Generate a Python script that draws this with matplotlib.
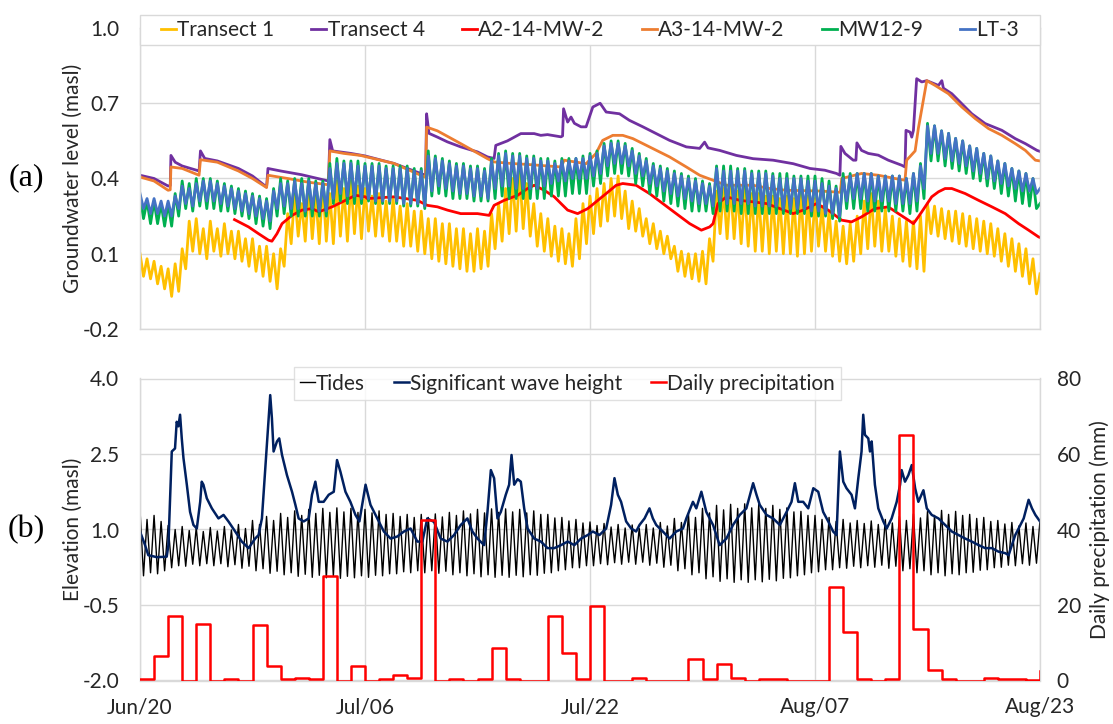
import numpy as np
import matplotlib
matplotlib.use("Agg")
import matplotlib.pyplot as plt
from matplotlib.patches import Rectangle

plt.rcParams['font.family'] = ['Lato', 'DejaVu Sans']
plt.rcParams['axes.unicode_minus'] = False

# ---------------- data ----------------
# x axis: days since Jun/20
date_ticks = [0, 16, 32, 48, 64]
date_labels = ["Jun/20", "Jul/06", "Jul/22", "Aug/07", "Aug/23"]

# Oscillating wells: successive highs and lows (cm), two tidal cycles per day
t1_hi = [10, 8, 7, 5, 4, 6, 12, 23, 24, 20, 23, 20, 22, 19, 19, 16,
         16, 13, 13, 10, 12, 26, 34, 30, 37, 33, 38, 34, 39, 36, 39, 37,
         36, 33, 34, 31, 32, 29, 30, 27, 27, 24, 24, 22, 22, 20, 20, 18,
         20, 19, 26, 30, 36, 40, 42, 38, 30, 26, 24, 21, 20, 18, 24, 30,
         33, 36, 38, 40, 41, 35, 31, 28, 24, 22, 19, 17, 13, 11, 10, 10,
         11, 16, 35, 36, 37, 35, 36, 34, 34, 33, 33, 32, 33, 32, 34, 33,
         32, 29, 27, 23, 21, 22, 25, 31, 34, 31, 28, 25, 24, 23, 23, 25,
         30, 29, 28, 27, 27, 26, 25, 24, 23, 22, 20, 18, 16, 14, 12, 8]
t1_lo = [1, 0, -2, -4, -7, -5, 4, 11, 10, 8, 11, 9, 10, 8, 7, 5,
         3, 1, -1, -4, 5, 14, 17, 15, 16, 14, 15, 14, 17, 15, 18, 16,
         19, 17, 17, 15, 15, 13, 13, 11, 10, 8, 7, 6, 5, 4, 3, 3,
         4, 5, 12, 15, 18, 19, 20, 17, 13, 11, 9, 7, 6, 5, 8, 14,
         18, 21, 23, 25, 24, 20, 19, 17, 14, 12, 10, 8, 3, 1, 0, -1,
         -2, 7, 18, 16, 16, 14, 13, 11, 11, 10, 11, 10, 10, 9, 10, 11,
         13, 11, 9, 7, 6, 7, 10, 12, 13, 11, 11, 9, 7, 5, 4, 3,
         18, 17, 16, 15, 14, 13, 12, 11, 10, 9, 7, 5, 3, 1, -2, -6]
t1_end = 2

mw_hi = [33, 31, 31, 30, 30, 34, 39, 38, 40, 40, 40, 39, 38, 37, 36, 35,
         34, 33, 32, 36, 40, 39, 40, 40, 40, 39, 39, 46, 48, 47, 47, 47,
         46, 46, 46, 45, 45, 45, 45, 44, 44, 51, 49, 48, 47, 46, 46, 45,
         45, 44, 48, 50, 51, 50, 50, 49, 49, 48, 48, 47, 48, 48, 48, 49,
         50, 51, 54, 55, 55, 54, 52, 50, 48, 46, 45, 44, 43, 42, 41, 40,
         39, 38, 45, 45, 45, 44, 44, 43, 43, 43, 42, 42, 42, 41, 41, 41,
         41, 40, 39, 37, 42, 42, 42, 42, 42, 41, 41, 41, 41, 40, 42, 46,
         62, 61, 59, 58, 56, 55, 53, 52, 50, 49, 47, 46, 44, 43, 42, 40]
mw_lo = [24, 22, 22, 21, 21, 25, 28, 27, 29, 28, 28, 27, 27, 26, 25, 24,
         22, 21, 20, 25, 26, 25, 25, 25, 25, 25, 25, 30, 31, 30, 30, 30,
         31, 30, 30, 30, 30, 29, 29, 29, 28, 33, 34, 33, 32, 32, 32, 31,
         31, 31, 32, 33, 32, 32, 32, 32, 32, 32, 33, 33, 33, 34, 34, 34,
         37, 38, 41, 42, 42, 41, 38, 37, 34, 33, 31, 30, 29, 28, 27, 27,
         27, 26, 27, 27, 27, 26, 26, 26, 26, 26, 26, 26, 26, 26, 26, 25,
         25, 25, 24, 23, 28, 28, 28, 27, 27, 27, 27, 27, 27, 26, 27, 32,
         47, 47, 45, 44, 43, 42, 40, 39, 37, 36, 34, 33, 31, 30, 29, 28]
mw_end = 30

lt_hi = [34, 32, 32, 31, 31, 33, 37, 36, 38, 39, 39, 38, 37, 36, 35, 34,
         33, 32, 31, 35, 38, 38, 39, 38, 39, 38, 38, 44, 46, 46, 46, 45,
         45, 45, 45, 44, 44, 44, 44, 43, 43, 49, 48, 47, 46, 45, 45, 44,
         44, 43, 47, 49, 50, 49, 49, 48, 48, 47, 47, 46, 47, 47, 48, 48,
         49, 50, 53, 54, 54, 53, 51, 49, 47, 45, 44, 43, 42, 41, 40, 39,
         38, 37, 44, 43, 43, 43, 43, 42, 42, 42, 41, 40, 40, 40, 40, 39,
         39, 38, 37, 36, 40, 41, 42, 42, 42, 41, 41, 41, 41, 40, 42, 45,
         61, 61, 59, 58, 56, 55, 53, 52, 50, 49, 47, 46, 44, 43, 42, 40]
lt_lo = [28, 26, 26, 25, 25, 28, 30, 29, 31, 31, 31, 30, 29, 28, 27, 26,
         25, 24, 23, 28, 29, 28, 28, 27, 28, 27, 27, 32, 34, 33, 33, 32,
         32, 31, 31, 31, 31, 30, 30, 30, 29, 35, 37, 36, 35, 34, 34, 33,
         33, 32, 36, 37, 37, 36, 36, 36, 36, 37, 38, 39, 39, 40, 40, 40,
         41, 42, 45, 46, 46, 45, 42, 41, 38, 37, 35, 34, 33, 32, 31, 30,
         30, 29, 31, 30, 30, 30, 30, 29, 29, 29, 29, 28, 28, 28, 28, 27,
         27, 26, 26, 25, 31, 32, 32, 31, 31, 31, 31, 30, 30, 30, 31, 36,
         50, 50, 48, 47, 46, 45, 43, 42, 40, 39, 38, 37, 36, 35, 35, 34]
lt_end = 36

# Smoother wells: (day, level in masl)
t4_day = [0, 1.0, 2.0, 2.15, 2.2, 2.5, 3.0, 4.2, 4.3, 4.6, 5.5, 7.0, 8.0, 9.0, 9.1,
          10.0, 11.5, 13.4, 13.5, 13.7, 15.0, 16.0, 18.06, 19.96, 20.31, 20.38, 20.55,
          21.15, 21.86, 22.81, 24.0, 24.71, 25.18, 25.3, 26.13, 27.08, 28.03, 28.5,
          28.98, 29.94, 30.05, 30.12, 30.41, 30.65, 30.89, 31.36, 31.72, 32.2, 32.72,
          33.15, 34.1, 34.8, 35.76, 36.71, 37.66, 38.85, 39.8, 40.15, 40.39, 41.22,
          42.41, 43.6, 45.02, 46.45, 47.64, 48.7, 49.53, 49.77, 49.84, 50.13, 50.72,
          50.91, 50.98, 51.31, 51.79, 52.5, 53.21, 54.16, 54.4, 54.47, 54.76, 54.88,
          55.0, 55.23, 55.59, 55.95, 56.78, 57.02, 57.13, 57.73, 58.44, 59.15, 60.1,
          61.29, 62.24, 62.96, 63.79, 64.0]
t4_lvl = [0.413, 0.40, 0.37, 0.372, 0.492, 0.465, 0.45, 0.43, 0.51, 0.48, 0.47, 0.44, 0.41, 0.366, 0.44,
          0.43, 0.415, 0.39, 0.555, 0.51, 0.50, 0.49, 0.46, 0.42, 0.413, 0.658, 0.58,
          0.565, 0.546, 0.526, 0.506, 0.486, 0.48, 0.532, 0.55, 0.579, 0.579, 0.572,
          0.575, 0.566, 0.57, 0.678, 0.625, 0.645, 0.62, 0.606, 0.606, 0.685, 0.70,
          0.665, 0.658, 0.632, 0.606, 0.579, 0.552, 0.526, 0.52, 0.545, 0.522, 0.512,
          0.492, 0.479, 0.473, 0.459, 0.44, 0.433, 0.42, 0.413, 0.528, 0.50, 0.473,
          0.473, 0.542, 0.512, 0.50, 0.493, 0.473, 0.453, 0.446, 0.592, 0.585, 0.565,
          0.592, 0.798, 0.785, 0.79, 0.771, 0.79, 0.76, 0.738, 0.698, 0.658, 0.619,
          0.592, 0.559, 0.539, 0.512, 0.508]

a3_day = [0, 1.0, 2.0, 2.15, 2.2, 3.0, 4.2, 4.3, 5.5, 7.0, 8.0, 9.0, 9.1, 10.5, 12.0,
          13.4, 13.5, 14.5, 15.68, 18.06, 19.96, 20.31, 20.38, 21.15, 22.81, 24.71,
          25.18, 26.37, 27.56, 28.98, 29.94, 30.17, 31.72, 32.43, 32.9, 33.62, 34.33,
          35.05, 36.23, 37.66, 38.85, 39.8, 40.75, 41.7, 43.6, 44.79, 45.98, 48.35,
          49.8, 49.9, 51.31, 52.5, 53.69, 54.4, 54.52, 55.12, 55.35, 55.95, 56.54,
          57.49, 58.44, 59.39, 60.34, 61.29, 62.24, 62.96, 63.67, 64.0]
a3_lvl = [0.406, 0.39, 0.353, 0.355, 0.446, 0.44, 0.413, 0.475, 0.465, 0.43, 0.40, 0.364, 0.413, 0.40, 0.385,
          0.375, 0.51, 0.50, 0.492, 0.46, 0.413, 0.405, 0.605, 0.59, 0.539, 0.479,
          0.466, 0.46, 0.456, 0.45, 0.446, 0.473, 0.459, 0.50, 0.552, 0.572, 0.572,
          0.559, 0.526, 0.486, 0.446, 0.413, 0.393, 0.373, 0.373, 0.36, 0.353, 0.35,
          0.345, 0.40, 0.42, 0.413, 0.40, 0.393, 0.473, 0.51, 0.60, 0.79, 0.771,
          0.738, 0.685, 0.639, 0.599, 0.572, 0.539, 0.512, 0.473, 0.47]

a2_day = [6.72, 7.72, 8.43, 9.14, 9.38, 9.74, 10.1, 10.81, 11.52, 12.23, 12.71, 13.66,
          14.61, 15.32, 16.03, 16.16, 18.06, 19.72, 20.43, 21.15, 21.86, 22.81, 24.0,
          24.83, 25.18, 25.9, 26.85, 27.56, 28.03, 28.75, 29.46, 29.94, 30.41, 31.12,
          31.84, 32.43, 33.15, 33.86, 34.33, 35.28, 36.23, 37.18, 38.13, 39.09, 39.92,
          40.51, 40.75, 41.1, 41.7, 42.65, 43.6, 44.55, 45.5, 46.45, 47.16, 48.11,
          48.94, 49.89, 50.6, 51.31, 52.26, 53.21, 53.93, 54.64, 55.0, 55.35, 55.83,
          56.3, 56.78, 57.25, 57.73, 58.68, 59.63, 60.58, 61.53, 62.48, 63.19, 63.9, 64.0]
a2_lvl = [0.236, 0.207, 0.18, 0.154, 0.15, 0.18, 0.22, 0.253, 0.274, 0.28, 0.267, 0.287,
          0.313, 0.333, 0.327, 0.32, 0.327, 0.313, 0.293, 0.287, 0.274, 0.26, 0.26,
          0.253, 0.293, 0.313, 0.333, 0.36, 0.373, 0.353, 0.327, 0.30, 0.274, 0.26,
          0.28, 0.307, 0.34, 0.373, 0.38, 0.373, 0.34, 0.30, 0.26, 0.22, 0.194,
          0.207, 0.22, 0.30, 0.327, 0.313, 0.307, 0.30, 0.28, 0.26, 0.274, 0.30,
          0.274, 0.234, 0.227, 0.247, 0.28, 0.287, 0.26, 0.234, 0.22, 0.247, 0.287,
          0.327, 0.347, 0.36, 0.36, 0.34, 0.313, 0.287, 0.26, 0.22, 0.194, 0.167, 0.165]

# Tides: successive high / low waters (cm)
tide_hi = [139, 120, 128, 116, 108, 100, 106, 98, 104, 96, 104, 97, 106, 99, 110, 102,
           118, 110, 126, 118, 132, 124, 137, 128, 140, 132, 142, 134, 143, 135, 142, 134,
           140, 133, 137, 130, 132, 126, 130, 124, 130, 124, 131, 125, 134, 128, 137, 131,
           140, 133, 141, 134, 141, 135, 140, 133, 137, 130, 130, 123, 124, 117, 120, 113,
           115, 108, 112, 105, 110, 103, 109, 102, 110, 103, 114, 107, 122, 114, 132, 124,
           142, 133, 148, 139, 150, 142, 151, 143, 150, 142, 148, 140, 143, 135, 136, 128,
           128, 120, 124, 116, 120, 113, 118, 112, 117, 110, 120, 113, 126, 118, 131, 123,
           136, 128, 138, 130, 136, 128, 130, 122, 124, 116, 118, 111, 114, 107, 113, 106]
tide_lo = [8, 14, 12, 18, 24, 28, 27, 31, 28, 32, 28, 32, 26, 30, 23, 27,
           18, 22, 13, 17, 10, 14, 7, 11, 5, 9, 4, 8, 3, 7, 4, 8,
           5, 9, 8, 12, 12, 16, 14, 18, 14, 18, 13, 17, 10, 14, 8, 12,
           6, 10, 5, 9, 5, 9, 6, 10, 9, 13, 14, 18, 20, 24, 24, 28,
           28, 32, 30, 34, 31, 35, 31, 35, 29, 33, 25, 29, 18, 22, 10, 14,
           2, 6, -3, 2, -5, 0, -5, 0, -4, 1, -2, 3, 4, 8, 10, 14,
           16, 20, 20, 24, 23, 27, 24, 28, 25, 29, 23, 27, 18, 22, 14, 18,
           10, 14, 8, 12, 10, 14, 15, 19, 20, 24, 25, 29, 28, 32, 29, 33]
tide_end = 118

# Significant wave height (m)
wave_day = [0.0, 0.36, 0.59, 1.2, 1.9, 2.02, 2.26, 2.49, 2.61, 2.73, 2.85, 2.97, 3.09, 3.33,
            3.56, 3.8, 4.04, 4.28, 4.39, 4.51, 4.75, 5.11, 5.58, 5.94, 6.29, 6.77, 7.24,
            7.72, 8.19, 8.43, 8.67, 8.91, 9.14, 9.26, 9.38, 9.5, 9.74, 9.9, 10.1, 10.45,
            10.81, 11.05, 11.28, 11.64, 12.0, 12.23, 12.47, 12.71, 13.06, 13.42, 13.78,
            14.01, 14.25, 14.61, 14.96, 15.32, 15.6, 16.04, 16.39, 16.87, 17.34, 17.82,
            18.29, 18.77, 19.24, 19.72, 20.08, 20.43, 20.91, 21.38, 21.86, 22.33, 22.81,
            23.28, 23.64, 24.0, 24.47, 24.71, 24.95, 25.18, 25.42, 25.66, 26.01, 26.25,
            26.42, 26.61, 26.85, 27.08, 27.32, 27.56, 28.03, 28.51, 28.98, 29.46, 29.94,
            30.41, 30.89, 31.36, 31.84, 32.2, 32.67, 33.15, 33.5, 33.74, 33.98, 34.21,
            34.57, 34.93, 35.28, 35.52, 35.88, 36.23, 36.47, 36.71, 37.18, 37.66, 38.13,
            38.61, 38.85, 39.32, 39.56, 39.92, 40.27, 40.75, 41.22, 41.7, 42.17, 42.65,
            43.12, 43.6, 43.84, 44.07, 44.55, 45.02, 45.5, 45.98, 46.33, 46.57, 46.81,
            47.16, 47.52, 47.88, 48.23, 48.58, 48.94, 49.29, 49.53, 49.77, 50.01, 50.24,
            50.6, 50.84, 51.08, 51.31, 51.43, 51.55, 51.79, 51.91, 52.03, 52.26, 52.5,
            52.86, 53.1, 53.45, 53.81, 54.05, 54.16, 54.4, 54.64, 54.88, 55.12, 55.35,
            55.71, 55.95, 56.3, 56.78, 57.25, 57.73, 58.2, 58.68, 59.15, 59.63, 60.1,
            60.58, 61.05, 61.53, 61.77, 62.0, 62.24, 62.48, 62.84, 63.19, 63.43, 63.67, 64.0]
wave_h = [0.96, 0.69, 0.49, 0.45, 0.46, 0.69, 2.55, 2.61, 3.14, 3.05, 3.28, 2.81, 2.42, 1.89,
          1.35, 1.09, 1.02, 1.55, 1.95, 1.89, 1.62, 1.42, 1.22, 1.29, 1.16, 0.96, 0.76,
          0.63, 0.82, 0.89, 1.22, 2.22, 3.21, 3.67, 3.21, 2.55, 2.75, 2.81, 2.48, 2.08,
          1.75, 1.49, 1.22, 1.16, 1.22, 1.69, 1.95, 1.55, 1.55, 1.69, 1.75,
          2.38, 2.15, 1.75, 1.55, 1.29, 1.16, 1.89, 1.49, 1.22, 0.96, 0.82,
          0.86, 0.96, 1.02, 0.76, 0.76, 1.22, 1.15, 0.82, 0.76, 0.89, 1.09,
          1.22, 0.96, 0.82, 0.69, 1.35, 2.18, 2.02, 1.22, 1.35, 1.69, 1.89,
          2.48, 1.89, 2.0, 1.95, 1.42, 1.02, 0.82, 0.76, 0.63, 0.63, 0.69,
          0.76, 0.69, 0.82, 0.89, 0.96, 0.89, 1.02, 1.49, 2.02, 1.69, 1.55,
          1.16, 1.02, 0.96, 1.09, 1.22, 1.42, 1.22, 1.09, 0.96, 0.82, 0.96,
          1.02, 1.22, 1.55, 1.42, 1.75, 1.35, 1.09, 0.69, 0.82, 1.09, 1.29,
          1.42, 1.92, 1.69, 1.49, 1.29, 1.22, 1.09, 1.35, 1.55, 1.92, 1.55,
          1.55, 1.42, 1.82, 1.75, 1.35, 1.16, 0.96, 0.89, 2.55, 1.95, 1.82,
          1.69, 1.42, 2.02, 2.55, 3.28, 2.88, 2.81, 2.55, 2.75, 1.89, 1.42,
          1.16, 1.02, 1.22, 1.55, 1.89, 2.18, 1.95, 2.08, 2.28, 1.82, 1.55,
          1.78, 1.42, 1.29, 1.22, 1.09, 0.96, 0.89, 0.82, 0.76, 0.69, 0.63,
          0.63, 0.56, 0.53, 0.49, 0.69, 0.89, 1.02, 1.22, 1.59, 1.42, 1.29, 1.16]

# Daily precipitation (mm), one value per day, plus the reading at Aug/23
precip = [0.5, 6.5, 17.2, 0, 15.0, 0, 0.3, 0, 14.6, 3.8, 0.4, 0.7, 0.5, 27.8, 0, 3.8,
          0, 0.3, 1.4, 0.7, 42.5, 0, 0.3, 0, 0.3, 8.5, 0.3, 0, 0, 17.1, 7.4, 0.3,
          19.8, 0, 0, 0.6, 0, 0, 0, 5.6, 0.3, 4.5, 0.6, 0, 0.3, 0.5, 0, 0,
          0, 24.7, 12.8, 0.4, 0, 0.4, 65.0, 13.6, 2.8, 0.3, 0, 0, 0.6, 0.4, 0.3, 0.1,
          2.6]


def cycle_series(hi, lo, end):
    """Alternate highs and lows into one series, in metres."""
    vals = np.empty(2 * len(hi) + 1)
    vals[0:-1:2] = hi
    vals[1:-1:2] = lo
    vals[-1] = end
    return np.arange(vals.size) * 0.25, vals / 100.0


# ---------------- figure ----------------
W, H = 1113, 724
fig = plt.figure(figsize=(W / 100, H / 100), dpi=100)
fig.patch.set_facecolor("white")

grid_c = "#d9d9d9"
txt_c = "#262626"
fs = 15
lw_gw = 2.0

ax1 = fig.add_axes([140 / W, 1 - 329 / H, 900 / W, 301 / H])
ax2 = fig.add_axes([140 / W, 1 - 680.5 / H, 900 / W, 302 / H])

for ax in (ax1, ax2):
    ax.set_xlim(0, 64)
    ax.set_xticks(date_ticks)
    ax.grid(True, color=grid_c, lw=1.0, zorder=0)
    ax.set_axisbelow(True)
    for s in ax.spines.values():
        s.set_color(grid_c)
        s.set_linewidth(1.0)
    ax.tick_params(length=0, labelsize=fs, colors=txt_c, pad=15)
ax2.tick_params(axis="x", pad=12)

# ---- panel (a): groundwater ----
t, y = cycle_series(t1_hi, t1_lo, t1_end)
ax1.plot(t, y, color="#FFC000", lw=lw_gw, label="Transect 1")
ax1.plot(t4_day, t4_lvl, color="#7030A0", lw=lw_gw, label="Transect 4")
ax1.plot(a2_day, a2_lvl, color="#FF0000", lw=lw_gw, label="A2-14-MW-2")
ax1.plot(a3_day, a3_lvl, color="#ED7D31", lw=lw_gw, label="A3-14-MW-2")
t, y = cycle_series(mw_hi, mw_lo, mw_end)
ax1.plot(t, y, color="#00B050", lw=lw_gw, label="MW12-9")
t, y = cycle_series(lt_hi, lt_lo, lt_end)
ax1.plot(t, y, color="#4472C4", lw=lw_gw, label="LT-3")

ax1.set_ylim(-0.2, 1.0)
ax1.set_yticks([-0.2, 0.1, 0.4, 0.7, 1.0])
ax1.set_yticklabels([f"{v:.1f}" for v in [-0.2, 0.1, 0.4, 0.7, 1.0]])
ax1.set_xticklabels([])
ax1.set_ylabel("Groundwater level (masl)", fontsize=fs, color=txt_c, labelpad=0)

box = Rectangle((0, 1 - 17 / 301), 1, 30 / 301, transform=ax1.transAxes,
                facecolor="white", edgecolor=grid_c, lw=1.0, clip_on=False, zorder=5)
ax1.add_patch(box)
leg1 = ax1.legend(loc="center", bbox_to_anchor=(0.5, 1 - 2 / 301), ncol=6,
                  frameon=False, fontsize=fs, handlelength=0.72, handletextpad=0.05,
                  columnspacing=1.8, borderaxespad=0)
leg1.set_zorder(6)
for txt in leg1.get_texts():
    txt.set_color(txt_c)

# ---- panel (b): tides, waves, precipitation ----
t, y = cycle_series(tide_hi, tide_lo, tide_end)
ax2.plot(t, y, color="black", lw=1.0, label="Tides")
ax2.plot(wave_day, wave_h, color="#002060", lw=1.8, label="Significant wave height")
ax2.set_ylim(-2.0, 4.0)
ax2.set_yticks([-2.0, -0.5, 1.0, 2.5, 4.0])
ax2.set_yticklabels([f"{v:.1f}" for v in [-2.0, -0.5, 1.0, 2.5, 4.0]])
ax2.set_xticklabels(date_labels)
ax2.set_ylabel("Elevation (masl)", fontsize=fs, color=txt_c, labelpad=0)

ax3 = ax2.twinx()
ax3.step(np.arange(len(precip)), precip, where="post", color="#FF0000", lw=1.8,
         label="Daily precipitation")
ax3.set_ylim(0, 80)
ax3.set_yticks([0, 20, 40, 60, 80])
ax3.tick_params(length=0, labelsize=fs, colors=txt_c, pad=12)
for s in ax3.spines.values():
    s.set_visible(False)
ax3.set_ylabel("Daily precipitation (mm)", fontsize=fs, color=txt_c, labelpad=6)

h2, l2 = ax2.get_legend_handles_labels()
h3, l3 = ax3.get_legend_handles_labels()
leg2 = ax3.legend(h2 + h3, l2 + l3, loc="center", bbox_to_anchor=(0.475, 1 - 5 / 302),
                  ncol=3, frameon=True, fancybox=False, fontsize=fs, handlelength=0.72,
                  handletextpad=0.05, columnspacing=1.4, borderpad=0.3, borderaxespad=0)
leg2.get_frame().set_edgecolor(grid_c)
leg2.get_frame().set_linewidth(1.0)
for txt in leg2.get_texts():
    txt.set_color(txt_c)

# panel letters
fig.text(26 / W, 1 - 178 / H, "(a)", fontsize=23, family=["Liberation Serif"],
         ha="center", va="center", color="black")
fig.text(26 / W, 1 - 530 / H, "(b)", fontsize=23, family=["Liberation Serif"],
         ha="center", va="center", color="black")

fig.savefig("out.png", dpi=100, facecolor="white")
